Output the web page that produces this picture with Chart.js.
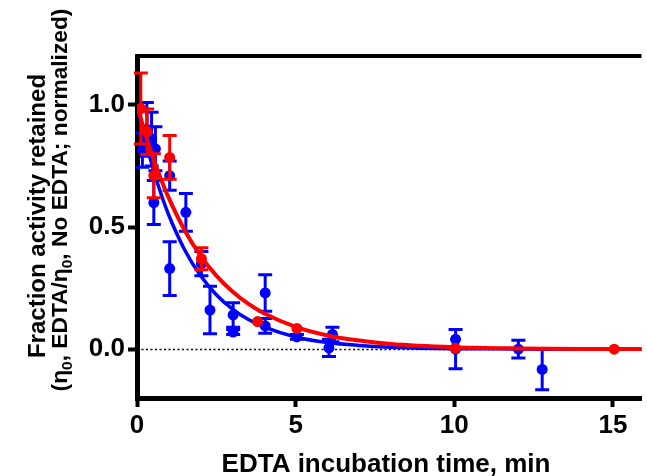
<!DOCTYPE html>
<html><head><meta charset="utf-8">
<script src="https://cdn.jsdelivr.net/npm/chart.js@4"></script>
<style>html,body{margin:0;padding:0;background:#fff}</style>
</head><body>
<canvas id="c" width="647" height="476" style="width:647px;height:476px;display:block"></canvas>
<script>
// Tick labels
const xTicks = [0, 5, 10, 15];
const yTicks = [0, 0.5, 1.0];

// Blue series (time, value, error)
const blueT   = [0.17, 0.31, 0.46, 0.58, 0.53, 1.03, 1.03, 1.54, 2.03, 2.3, 3.03, 3.03, 4.04, 4.04, 5.04, 6.05, 6.16, 10.04, 10.04, 12.02, 12.77];
const blueV   = [0.815, 0.90, 0.86, 0.82, 0.60, 0.71, 0.33, 0.56, 0.35, 0.16, 0.14, 0.07, 0.23, 0.095, 0.05, 0.005, 0.06, 0.0, 0.04, 0.0, -0.083];
const blueErr = [0.07, 0.11, 0.11, 0.09, 0.09, 0.06, 0.11, 0.077, 0.05, 0.097, 0.05, 0.01, 0.075, 0.03, 0.01, 0.035, 0.03, 0.08, 0, 0.036, 0.083];

// Red series
const redT   = [0.12, 0.32, 0.53, 1.03, 2.03, 3.8, 5.04, 10.03, 15.04];
const redV   = [0.985, 0.89, 0.71, 0.785, 0.37, 0.113, 0.085, 0.004, 0.0];
const redErr = [0.145, 0.093, 0.09, 0.09, 0.045, 0, 0, 0, 0];

// Fitted curves
const fitT    = [0, 0.25, 0.5, 0.75, 1, 1.5, 2, 2.5, 3, 3.5, 4, 5, 6, 7, 8, 10, 12, 14, 17];
const blueFit = [1.0, 0.861, 0.741, 0.638, 0.549, 0.407, 0.301, 0.223, 0.165, 0.122, 0.091, 0.050, 0.027, 0.015, 0.008, 0.002, 0.001, 0.0, 0.0];
const redFit  = [1.0, 0.887, 0.787, 0.698, 0.619, 0.487, 0.383, 0.301, 0.237, 0.186, 0.147, 0.091, 0.056, 0.035, 0.021, 0.008, 0.003, 0.001, 0.0005];

const BLUE = '#0000ff', RED = '#ff0000';
const FONT = '"Liberation Sans", Arial, Helvetica, sans-serif';
const pts = (xs, ys) => xs.map((x, i) => ({x: x, y: ys[i]}));

const errPlugin = {
  id: 'errbars',
  beforeDatasetDraw(chart, args) {
    const ds = chart.data.datasets[args.index];
    if (!ds.err) return;
    const ctx = chart.ctx, xs = chart.scales.x, ys = chart.scales.y;
    ctx.save();
    ctx.strokeStyle = ds.backgroundColor;
    ctx.lineWidth = 3;
    ds.data.forEach((p, i) => {
      const e = ds.err[i];
      if (!e) return;
      const px = xs.getPixelForValue(p.x);
      const y1 = ys.getPixelForValue(p.y + e), y2 = ys.getPixelForValue(p.y - e);
      ctx.beginPath();
      ctx.moveTo(px, y1); ctx.lineTo(px, y2);
      ctx.moveTo(px - 7, y1); ctx.lineTo(px + 7, y1);
      ctx.moveTo(px - 7, y2); ctx.lineTo(px + 7, y2);
      ctx.stroke();
    });
    ctx.restore();
  }
};

const decoPlugin = {
  id: 'deco',
  beforeDatasetsDraw(chart) {
    const ctx = chart.ctx, a = chart.chartArea, ys = chart.scales.y;
    const y0 = Math.round(ys.getPixelForValue(0)) + 0.5;
    ctx.save();
    ctx.strokeStyle = '#000';
    ctx.lineWidth = 1.5;
    ctx.setLineDash([2, 2.5]);
    ctx.beginPath(); ctx.moveTo(a.left, y0); ctx.lineTo(a.right, y0); ctx.stroke();
    ctx.restore();
  },
  afterDraw(chart) {
    const ctx = chart.ctx, a = chart.chartArea;
    ctx.save();
    // top frame line
    ctx.strokeStyle = '#000';
    ctx.lineWidth = 4;
    ctx.beginPath(); ctx.moveTo(a.left - 2, a.top); ctx.lineTo(a.right, a.top); ctx.stroke();
    // x title
    ctx.fillStyle = '#000';
    ctx.font = 'bold 26px ' + FONT;
    ctx.textAlign = 'center';
    ctx.textBaseline = 'middle';
    ctx.fillText('EDTA incubation time, min', 386, 465);
    // y title (rotated)
    ctx.rotate(-Math.PI / 2);
    ctx.textBaseline = 'alphabetic';
    ctx.textAlign = 'center';
    ctx.font = 'bold 24px ' + FONT;
    ctx.fillText('Fraction activity retained', -216, 45);
    // second line with subscripts, sized to its length in the picture
    const segs = [['(\u03b7', 0], ['0', 1], [', EDTA/\u03b7', 0], ['0', 1], [', No EDTA; normalized)', 0]];
    let size = 24, total = 0;
    const measure = sz => {
      let t = 0;
      segs.forEach(s => { ctx.font = 'bold ' + (s[1] ? sz * 0.68 : sz) + 'px ' + FONT; t += ctx.measureText(s[0]).width; });
      return t;
    };
    while ((total = measure(size)) > 385 && size > 16) size -= 0.25;
    let cx = -200 - total / 2;
    ctx.textAlign = 'left';
    segs.forEach(s => {
      ctx.font = 'bold ' + (s[1] ? size * 0.68 : size) + 'px ' + FONT;
      ctx.fillText(s[0], cx, s[1] ? 72 : 67);
      cx += ctx.measureText(s[0]).width;
    });
    ctx.restore();
  }
};

new Chart(document.getElementById('c'), {
  type: 'scatter',
  data: {
    datasets: [
      {data: pts(fitT, blueFit), showLine: true, borderColor: BLUE, borderWidth: 3.5, pointRadius: 0, cubicInterpolationMode: 'monotone', order: 4},
      {data: pts(blueT, blueV), err: blueErr, backgroundColor: BLUE, borderWidth: 0, pointRadius: 5.5, order: 3},
      {data: pts(fitT, redFit), showLine: true, borderColor: RED, borderWidth: 4, pointRadius: 0, cubicInterpolationMode: 'monotone', order: 2},
      {data: pts(redT, redV), err: redErr, backgroundColor: RED, borderWidth: 0, pointRadius: 5.5, order: 1}
    ]
  },
  options: {
    responsive: false,
    animation: false,
    events: [],
    layout: {padding: {top: 56, left: 0, right: 0, bottom: 0}},
    plugins: {legend: {display: false}, tooltip: {enabled: false}},
    scales: {
      x: {
        type: 'linear', min: 0, max: 15.9,
        afterFit(s) { s.height = 78; },
        afterBuildTicks(s) { s.ticks = xTicks.map(v => ({value: v})); },
        border: {display: true, color: '#000', width: 5},
        grid: {display: true, drawOnChartArea: false, drawTicks: true, tickLength: 9, tickWidth: 4, tickColor: '#000', color: '#000'},
        ticks: {color: '#000', font: {family: FONT, size: 26, weight: 'bold'}, padding: 3, maxRotation: 0, autoSkip: false, callback: v => String(v)}
      },
      y: {
        type: 'linear', min: -0.2, max: 1.2,
        afterFit(s) { s.width = 137; },
        afterBuildTicks(s) { s.ticks = yTicks.map(v => ({value: v})); },
        border: {display: true, color: '#000', width: 5},
        grid: {display: true, drawOnChartArea: false, drawTicks: true, tickLength: 9, tickWidth: 4, tickColor: '#000', color: '#000'},
        ticks: {color: '#000', font: {family: FONT, size: 26, weight: 'bold'}, padding: 3, autoSkip: false, callback: v => v.toFixed(1)}
      }
    }
  },
  plugins: [errPlugin, decoPlugin]
});
</script>
</body></html>
